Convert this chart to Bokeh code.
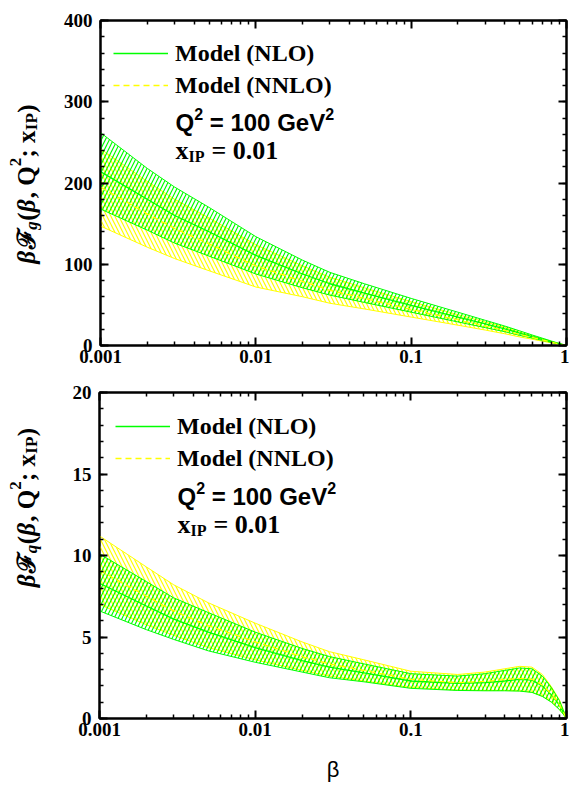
import math
from bokeh.plotting import figure
from bokeh.models import (Range1d, FixedTicker, LinearAxis, LogAxis, Label, Legend,
                          LegendItem, CustomJSTickFormatter)
from bokeh.layouts import column, row
from bokeh.embed import file_html
from bokeh.resources import INLINE

# ---------------- data ----------------
beta = [0.001, 0.002, 0.003, 0.005, 0.01, 0.02, 0.03, 0.05, 0.1, 0.2, 0.3, 0.4, 0.5,
        0.6, 0.7, 0.8, 0.9, 0.95, 1.0]

# gluon, top panel
g_nlo_up = [262, 218, 195, 170, 134, 105, 90, 76, 58, 41, 31, 24, 18, 13, 9, 5.5, 2.5, 1.2, 0]
g_nlo_c = [214, 180, 160, 140, 111, 88, 76, 64.5, 49.5, 35, 26.5, 20.5, 15.2, 11, 7.6, 4.6, 2.1, 1.0, 0]
g_nlo_lo = [168, 142, 126, 110, 88, 71, 62, 53, 41, 29, 22, 17, 12.5, 9.2, 6.3, 3.8, 1.7, 0.8, 0]
g_nnlo_up = [242, 202, 180, 157, 124, 98, 84, 71, 54, 38, 29, 22.5, 16.5, 12, 8.3, 5.0, 2.3, 1.1, 0]
g_nnlo_c = [195, 162, 144, 125, 98, 79, 68, 58, 44.5, 31.5, 24, 18.5, 13.5, 9.9, 6.8, 4.1, 1.9, 0.9, 0]
g_nnlo_lo = [147, 121, 107, 92, 72, 60, 52, 45, 35, 25, 19, 14.5, 10.5, 7.8, 5.3, 3.2, 1.5, 0.7, 0]

# quark, bottom panel
q_nlo_up = [10.1, 8.4, 7.4, 6.5, 5.3, 4.3, 3.8, 3.35, 2.75, 2.6, 2.75, 2.95, 3.1, 3.05, 2.6, 1.9, 1.1, 0.55, 0]
q_nlo_c = [8.3, 6.9, 6.1, 5.3, 4.35, 3.55, 3.15, 2.8, 2.3, 2.15, 2.2, 2.3, 2.4, 2.35, 2.0, 1.45, 0.82, 0.42, 0]
q_nlo_lo = [6.6, 5.45, 4.85, 4.15, 3.45, 2.85, 2.5, 2.25, 1.85, 1.72, 1.7, 1.7, 1.68, 1.6, 1.35, 1.0, 0.55, 0.28, 0]
q_nnlo_up = [11.2, 9.3, 8.2, 7.1, 5.85, 4.7, 4.1, 3.6, 2.9, 2.7, 2.85, 3.05, 3.2, 3.15, 2.7, 1.95, 1.15, 0.58, 0]
q_nnlo_c = [9.1, 7.5, 6.6, 5.7, 4.7, 3.8, 3.35, 2.95, 2.4, 2.2, 2.28, 2.38, 2.45, 2.4, 2.05, 1.5, 0.85, 0.43, 0]
q_nnlo_lo = [7.0, 5.75, 5.1, 4.35, 3.6, 2.95, 2.6, 2.3, 1.9, 1.75, 1.72, 1.72, 1.7, 1.62, 1.38, 1.02, 0.56, 0.29, 0]

x_ticks = [0.001, 0.01, 0.1, 1]
x_minor = [m * d for d in (0.001, 0.01, 0.1) for m in range(2, 10)]
g_yticks = [0, 100, 200, 300, 400]
g_yminor = list(range(0, 401, 20))
q_yticks = [0, 5, 10, 15, 20]
q_yminor = list(range(0, 21, 1))

legend_labels = ["Model (NLO)", "Model (NNLO)"]
q2_value = "= 100 GeV"
xip_value = "= 0.01"
x_title = "β"

GREEN = "#00ff00"
YELLOW = "#ffff00"
SERIF = "Liberation Serif"
SANS = "Liberation Sans"
TW = 60            # width of the strip holding the rotated y title
W = 569 - TW


def style_axis(ax, labels=True):
    ax.axis_line_width = 2
    ax.major_tick_in = 8
    ax.major_tick_out = 0
    ax.minor_tick_in = 4
    ax.minor_tick_out = 0
    ax.major_tick_line_width = 2
    ax.minor_tick_line_width = 1.5
    if labels:
        ax.major_label_text_font = SERIF
        ax.major_label_text_font_style = "bold"
        ax.major_label_text_font_size = "19px"
        ax.major_label_text_color = "black"
    else:
        ax.major_label_text_font_size = "0px"
        ax.major_label_standoff = 0
        ax.formatter = CustomJSTickFormatter(code="return '';")


def title_pieces(sub):
    F = 25
    S = 17
    return [  # text, size, style, shift(+ = subscript), advance in em
        ("β", F, "bold italic", 0, 0.58),
        ("ℱ", F, "bold", 0, 0.78),
        (sub, S, "bold italic", 5, 0.52),
        ("(", F, "bold", 0, 0.34),
        ("β", F, "bold italic", 0, 0.56),
        (", Q", F, "bold", 0, 1.28),
        ("2", S, "bold", -11, 0.52),
        ("; x", F, "bold", 0, 1.09),
        ("IP", S, "bold", 5, 1.02),
        (")", F, "bold", 0, 0.34),
    ]


def title_fig(height, center_y, sub):
    t = figure(width=TW, height=height, x_range=Range1d(0, TW), y_range=Range1d(0, height),
               output_backend="svg", toolbar_location=None, min_border=0,
               x_axis_location=None, y_axis_location=None)
    t.grid.visible = False
    t.outline_line_color = None
    pieces = title_pieces(sub)
    total = sum(sz * w for _, sz, _, _, w in pieces)
    pos = center_y - total / 2
    base_x = 26
    for tx, sz, st, sh, w in pieces:
        t.add_layout(Label(x=base_x + sh, y=pos, x_units="screen", y_units="screen", text=tx,
                           angle=math.pi / 2, text_font=SERIF, text_font_style=st,
                           text_font_size=f"{sz}px", text_color="black",
                           text_align="left", text_baseline="alphabetic"))
        pos += sz * w
    return t


def lab(p, x, y, text, font, size):
    p.add_layout(Label(x=x, y=y, x_units="screen", y_units="screen", text=text,
                       text_font=font, text_font_style="bold", text_font_size=f"{size}px",
                       text_baseline="alphabetic", text_color="black"))


def make_fig(height, top, bottom, ymax, yticks, yminor, data, leg_xy, txt_xy):
    up1, c1, lo1, up2, c2, lo2 = data
    p = figure(width=W, height=height, x_axis_type="log",
               x_range=Range1d(0.001, 1), y_range=Range1d(0, ymax),
               output_backend="svg", toolbar_location=None,
               min_border_left=99 - TW, min_border_right=3,
               min_border_top=top, min_border_bottom=bottom)
    p.grid.visible = False
    p.outline_line_color = "black"
    p.outline_line_width = 2

    xt = FixedTicker(ticks=x_ticks, minor_ticks=x_minor)
    yt = FixedTicker(ticks=yticks, minor_ticks=yminor)
    ax_b = p.below[0]
    ax_l = p.left[0]
    ax_b.ticker = xt
    ax_l.ticker = yt
    ax_b.formatter = CustomJSTickFormatter(
        code="return tick >= 1 ? tick.toFixed(0) : String(Number(tick.toPrecision(1)));")
    style_axis(ax_b)
    style_axis(ax_l)
    ax_b.major_label_standoff = 4
    ax_l.major_label_standoff = 8

    ax_top = LogAxis(ticker=xt)
    style_axis(ax_top, labels=False)
    p.add_layout(ax_top, "above")
    ax_right = LinearAxis(ticker=yt)
    style_axis(ax_right, labels=False)
    p.add_layout(ax_right, "right")

    # NNLO band (yellow, "\" hatch)
    p.varea(x=beta, y1=lo2, y2=up2, fill_alpha=0, hatch_pattern="\\",
            hatch_color=YELLOW, hatch_scale=8, hatch_weight=1.2)
    p.line(beta, up2, color=YELLOW, line_width=1)
    p.line(beta, lo2, color=YELLOW, line_width=1)
    # NLO band (green, "/" hatch)
    p.varea(x=beta, y1=lo1, y2=up1, fill_alpha=0, hatch_pattern="/",
            hatch_color=GREEN, hatch_scale=8, hatch_weight=1.2)
    p.line(beta, up1, color=GREEN, line_width=1)
    p.line(beta, lo1, color=GREEN, line_width=1)
    r_nlo = p.line(beta, c1, color=GREEN, line_width=1.3)
    r_nnlo = p.line(beta, c2, color=YELLOW, line_width=1.3, line_dash="6 4")

    legend = Legend(items=[LegendItem(label=legend_labels[0], renderers=[r_nlo]),
                           LegendItem(label=legend_labels[1], renderers=[r_nnlo])],
                    location=leg_xy, background_fill_alpha=0, border_line_alpha=0,
                    padding=0, margin=0, spacing=0, glyph_width=55, glyph_height=32,
                    label_height=32, label_standoff=7, label_text_font=SERIF,
                    label_text_font_style="bold", label_text_font_size="24px",
                    label_text_color="black")
    p.add_layout(legend)

    tx, ty = txt_xy
    # "Q² = 100 GeV²" with raised exponents (Arial-metric widths, spaces as offsets)
    F, S = 24, 16
    lab(p, tx, ty, "Q", SANS, F)
    lab(p, tx + 0.778 * F, ty + 9, "2", SANS, S)
    x2 = tx + 0.778 * F + 0.556 * S + 0.278 * F
    lab(p, x2, ty, q2_value, SANS, F)
    lab(p, x2 + 4.809 * F, ty + 9, "2", SANS, S)
    # "x_IP = 0.01"
    ty2 = ty - 28
    lab(p, tx, ty2, "x", SERIF, 26)
    lab(p, tx + 13, ty2 - 6, "IP", SERIF, 16)
    lab(p, tx + 36, ty2, xip_value, SERIF, 26)
    return p, ax_b


H1, H2 = 368, 423
p1, _ = make_fig(H1, 20, 23, 400, g_yticks, g_yminor,
                 (g_nlo_up, g_nlo_c, g_nlo_lo, g_nnlo_up, g_nnlo_c, g_nnlo_lo),
                 (13, 244), (75, 223))
p2, axb2 = make_fig(H2, 24, 73, 20, q_yticks, q_yminor,
                    (q_nlo_up, q_nlo_c, q_nlo_lo, q_nnlo_up, q_nnlo_c, q_nnlo_lo),
                    (16, 244), (78, 222))
axb2.axis_label = x_title
axb2.axis_label_text_font = SANS
axb2.axis_label_text_font_style = "normal"
axb2.axis_label_text_font_size = "22px"
axb2.axis_label_text_color = "black"
axb2.axis_label_standoff = 18

# title strips: centre of each frame, measured upward from the strip's bottom
t1 = title_fig(H1, H1 - 182.5 - 24, "g")
t2 = title_fig(H2, H2 - (556 - H1) - 24, "q")

layout = column(row(t1, p1), row(t2, p2))
open("out.html", "w").write(file_html(layout, INLINE))
